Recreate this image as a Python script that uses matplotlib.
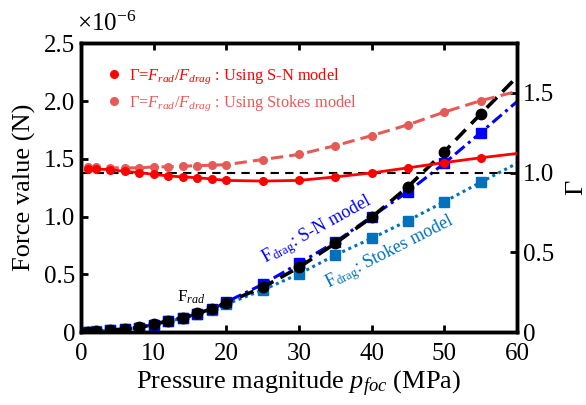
import matplotlib
matplotlib.use("Agg")
import matplotlib.pyplot as plt
from matplotlib.lines import Line2D
from matplotlib.ticker import FuncFormatter, FixedLocator
import numpy as np

plt.rcParams['font.family'] = ['Liberation Serif', 'DejaVu Serif']
plt.rcParams['mathtext.fontset'] = 'custom'
plt.rcParams['mathtext.rm'] = 'Liberation Serif'
plt.rcParams['mathtext.it'] = 'Liberation Serif:italic'
plt.rcParams['mathtext.bf'] = 'Liberation Serif:bold'

# Pressure magnitude (MPa)
p_foc = [1, 2, 4, 6, 8, 10, 12, 14, 16, 18, 20, 25, 30, 35, 40, 45, 50, 55, 60]
# Forces (x1e-6 N)
F_rad = [0.002, 0.005, 0.017, 0.026, 0.040, 0.066, 0.098, 0.124, 0.162, 0.200, 0.254,
         0.387, 0.560, 0.769, 0.994, 1.259, 1.562, 1.889, 2.21]
F_drag_SN = [0.0, 0.0, 0.016, 0.025, 0.039, 0.064, 0.096, 0.121, 0.158, 0.196, 0.260,
             0.413, 0.595, 0.780, 1.000, 1.216, 1.462, 1.727, 1.996]
F_drag_Stokes = [0.002, 0.005, 0.016, 0.025, 0.039, 0.063, 0.094, 0.118, 0.154, 0.190, 0.240,
                 0.364, 0.503, 0.667, 0.812, 0.965, 1.129, 1.297, 1.462]
# Ratio Gamma = F_rad / F_drag
Gamma_SN = [1.025, 1.022, 1.019, 1.008, 1.000, 0.989, 0.979, 0.973, 0.968, 0.960, 0.951,
            0.947, 0.951, 0.973, 0.998, 1.030, 1.063, 1.093, 1.12]
Gamma_Stokes = [1.036, 1.036, 1.030, 1.030, 1.030, 1.036, 1.036, 1.040, 1.044, 1.046, 1.050,
                1.082, 1.114, 1.169, 1.232, 1.300, 1.380, 1.451, 1.51]

x_ticks = [0, 10, 20, 30, 40, 50, 60]
yl_ticks = [0, 0.5, 1.0, 1.5, 2.0, 2.5]
yr_ticks = [0, 0.5, 1.0, 1.5]

scale = 1e-6
x = np.array(p_foc)
mk = list(range(len(p_foc) - 1))

fig = plt.figure(figsize=(5.86, 4.05), dpi=100)
ax = fig.add_axes([0.1382, 0.1802, 0.744, 0.7124])

c_red = '#FF0000'
c_lred = '#E65A56'
c_blue = '#0000FF'
c_sblue = '#0072BD'

ax.plot(x, np.array(F_drag_Stokes) * scale, linestyle=(0, (1, 1.2)), color=c_sblue, lw=2.2,
        marker='s', ms=6.5, markevery=mk, zorder=2)
ax.plot(x, np.array(F_drag_SN) * scale, linestyle=(0, (4, 1.5, 1, 1.5)), color=c_blue, lw=2.2,
        marker='s', ms=6.5, markevery=mk, zorder=3)
ax.plot(x, np.array(F_rad) * scale, linestyle=(0, (4, 2.2)), color='black', lw=2.6,
        marker='o', ms=7.5, markevery=mk, zorder=4)

ax.set_xlim(0, 60)
ax.set_ylim(0, 2.5 * scale)
ax.xaxis.set_major_locator(FixedLocator(x_ticks))
ax.yaxis.set_major_locator(FixedLocator([v * scale for v in yl_ticks]))
ax.yaxis.set_major_formatter(FuncFormatter(lambda v, p: '0' if abs(v) < 1e-12 else f'{v / scale:.1f}'))
ax.tick_params(direction='in', length=5, width=2, labelsize=18, top=True, right=False, pad=4)
ax.tick_params(axis='x', pad=8)
for s in ax.spines.values():
    s.set_linewidth(2.5)
ax.set_xlabel(r'Pressure magnitude $p_{\mathit{foc}}$ (MPa)', fontsize=19, labelpad=3)
ax.set_ylabel('Force value (N)', fontsize=19, labelpad=6)
ax.text(-0.01, 1.025, r'$\times$10$^{\mathregular{-6}}$', transform=ax.transAxes, fontsize=18,
        ha='left', va='bottom')

ax.text(13.2, 0.30 * scale, r'F$_{\mathit{rad}}$', color='black', fontsize=12.5, ha='left', va='center')
ax.text(25.3, 0.60 * scale, r'F$_{\mathregular{drag}}$: S-N model', color=c_blue, fontsize=13,
        rotation=29, ha='left', va='baseline', rotation_mode='anchor')
ax.text(34.0, 0.38 * scale, r'F$_{\mathregular{drag}}$: Stokes model', color=c_sblue, fontsize=13,
        rotation=27, ha='left', va='baseline', rotation_mode='anchor')

ax2 = ax.twinx()
ax2.set_position(ax.get_position())
ax2.plot(x, Gamma_SN, color=c_red, lw=2.0, marker='o', ms=5.5, markevery=mk, zorder=3)
ax2.plot(x, Gamma_Stokes, color=c_lred, lw=2.2, linestyle=(0, (4, 2)), marker='o', ms=5.5,
         markevery=mk, zorder=2)
ax2.axhline(1.0, color='black', lw=1.5, linestyle=(0, (4, 3)), zorder=1)
ax2.set_ylim(0, 1.81)
ax2.yaxis.set_major_locator(FixedLocator(yr_ticks))
ax2.yaxis.set_major_formatter(FuncFormatter(lambda v, p: '0' if abs(v) < 1e-12 else f'{v:.1f}'))
ax2.tick_params(direction='in', length=5, width=2, labelsize=18, pad=4)
for s in ax2.spines.values():
    s.set_linewidth(2.5)
ax2.set_ylabel('Γ', fontsize=19, labelpad=8, rotation=90)

handles = [Line2D([], [], color=c_red, marker='o', ms=5.5, linestyle='none'),
           Line2D([], [], color=c_lred, marker='o', ms=5.5, linestyle='none')]
labels = [r'$\mathit{Γ}$=$F_{\mathit{rad}}$/$F_{\mathit{drag}}$ : Using S-N model',
          r'$\mathit{Γ}$=$F_{\mathit{rad}}$/$F_{\mathit{drag}}$ : Using Stokes model']
leg = ax2.legend(handles, labels, loc='upper left', frameon=False, fontsize=11.8,
                 handletextpad=0.3, borderaxespad=1.0, labelspacing=0.45, handlelength=1.2)
for t, c in zip(leg.get_texts(), [c_red, c_lred]):
    t.set_color(c)

fig.savefig('out.png', dpi=100)
